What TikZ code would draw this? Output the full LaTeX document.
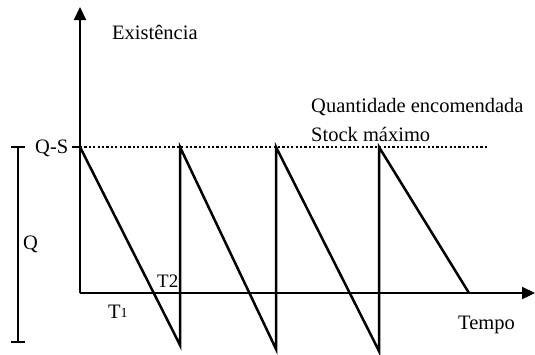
\documentclass[tikz,border=0pt]{standalone}
\usepackage{fontspec}
\setmainfont{Liberation Serif}
\usetikzlibrary{arrows.meta}
\begin{document}
\begin{tikzpicture}[x=1pt,y=-1pt,
  axis/.style={line width=2.3pt,-{Triangle[length=13pt,width=12pt]}},
  saw/.style={line width=2.5pt,line join=miter},
  lbl/.style={font=\fontsize{20.5}{23}\selectfont,inner sep=0pt,anchor=base west},
  dots/.style={line width=2.5pt,dash pattern=on 2.2pt off 2.2pt}]
\useasboundingbox (0,0) rectangle (535,354);
% axes
\coordinate (O) at (80,293);
\coordinate (ytop) at (80,7);
\coordinate (xend) at (535,293);
\draw[axis] (O) -- (ytop);
\draw[axis] (O) -- (xend);
% dotted max line
\coordinate (m0) at (72,147);
\coordinate (m1) at (80,147);
\coordinate (m2) at (488,147);
\draw[line width=1.8pt] (m0) -- (m1);
\draw[dots] (m1) -- (m2);
% sawtooth
\coordinate (a0) at (80,147);
\coordinate (b1) at (180,345);
\coordinate (a1) at (180,147);
\coordinate (b2) at (276,349);
\coordinate (a2) at (276,147);
\coordinate (b3) at (379,351);
\coordinate (a3) at (379,147);
\coordinate (e) at (469,293);
\draw[saw] (a0) -- (b1) -- (a1) -- (b2) -- (a2) -- (b3) -- (a3) -- (e);
% Q bracket
\coordinate (q0) at (18,147);
\coordinate (q1) at (18,342);
\draw[line width=2.5pt] (q0) -- (q1);
\draw[line width=2.5pt] (11,147) -- (25,147);
\draw[line width=2.5pt] (11,342) -- (25,342);
% labels
\node[lbl] (ex) at (112,39) {Existência};
\node[lbl] (qe) at (311,112) {Quantidade encomendada};
\node[lbl] (sm) at (311,141) {Stock máximo};
\node[lbl] (qs) at (35,153) {Q-S};
\node[lbl] (q) at (23,249) {Q};
\node[lbl,font=\fontsize{19}{21}\selectfont] (t2) at (157,287) {T2};
\node[lbl] (t1) at (108,318) {T\raisebox{0.5pt}{\fontsize{14}{16}\selectfont 1}};
\node[lbl] (tp) at (458,329) {Tempo};
\end{tikzpicture}
\end{document}
